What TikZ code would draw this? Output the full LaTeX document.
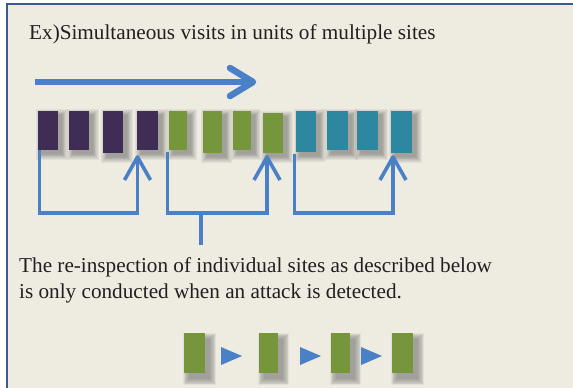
\documentclass[tikz,border=0pt]{standalone}
\usepackage{fontspec}
\setmainfont{Liberation Serif}
\usetikzlibrary{calc}

\definecolor{panel}{HTML}{EEEBE1}
\definecolor{frameblue}{HTML}{3A5A8E}
\definecolor{purp}{HTML}{402D56}
\definecolor{leaf}{HTML}{76963B}
\definecolor{teal}{HTML}{2E87A0}
\definecolor{flow}{HTML}{4A80C6}
\definecolor{ink}{HTML}{231F20}

\pgfdeclarelayer{panelbg}
\pgfdeclarelayer{shade}
\pgfsetlayers{panelbg,shade,main}

\tikzset{
  site/.style={rectangle, anchor=north west, inner sep=0pt, outer sep=0pt,
    fill=#1, minimum height=39pt},
  softshade/.style={fill=black!75, opacity=0.065},
  brk/.style={draw=flow, line width=3.6pt, line join=miter},
  runline/.style={draw=flow, line width=6.5pt},
  label/.style={anchor=base west, inner sep=0pt, text=ink,
    font=\fontsize{21.2}{26}\selectfont},
  pointer/.style={fill=flow}
}

% soft drop shadow behind a node: #1 node, #2 x offset, #3 y offset (downwards), #4 spread
\newcommand\siteshade[4]{%
  \begin{pgfonlayer}{shade}
    \foreach \k in {0,...,7}
      \fill[softshade]
        ($(#1.north west)+(#2-\k*#4,#3-\k*#4)$) rectangle
        ($(#1.south east)+(#2+\k*#4,#3+\k*#4)$);
  \end{pgfonlayer}}

\begin{document}
\begin{tikzpicture}[x=1pt, y=-1pt]
  \useasboundingbox (0,0) rectangle (573,388);
  % page and framed panel
  \begin{pgfonlayer}{panelbg}
    \fill[white] (0,0) rectangle (573,388);
    \fill[panel] (7,4) rectangle (573,388);
    \draw[frameblue, line width=2.4pt] (7,390) -- (7,4) -- (575,4);
  \end{pgfonlayer}

  % heading
  \node[label] (title) at (29,39) {Ex)Simultaneous visits in units of multiple sites};

  % direction of the visits
  \coordinate (runA) at (35,82);
  \coordinate (runB) at (250,82);
  \coordinate (runTip) at (253,82);
  \draw[runline] (runA) -- (runB);
  \draw[runline, line join=round, line cap=round]
    ($(runTip)+(-23,-14)$) -- (runTip) -- ($(runTip)+(-23,14)$);

  % three groups of four sites
  \node[site=purp, minimum width=20pt] (p1) at (38,111) {};
  \node[site=purp, minimum width=20pt] (p2) at (69,111) {};
  \node[site=purp, minimum width=20pt, minimum height=42pt] (p3) at (103,111) {};
  \node[site=purp, minimum width=21pt] (p4) at (137,111) {};
  \node[site=leaf, minimum width=18pt] (g1) at (169,111) {};
  \node[site=leaf, minimum width=19pt, minimum height=42pt] (g2) at (203,111) {};
  \node[site=leaf, minimum width=18pt] (g3) at (233,111) {};
  \node[site=leaf, minimum width=20pt, minimum height=40pt] (g4) at (263,113) {};
  \node[site=teal, minimum width=20pt, minimum height=41pt] (t1) at (296,111) {};
  \node[site=teal, minimum width=21pt] (t2) at (327,111) {};
  \node[site=teal, minimum width=21pt] (t3) at (357,111) {};
  \node[site=teal, minimum width=21pt, minimum height=42pt] (t4) at (391,111) {};
  \foreach \n in {p1,p2,p3,p4,g1,g2,g3,g4,t1,t2,t3,t4}
    {\siteshade{\n}{4}{4}{0.8}}

  % brackets: each group is visited from its first to its last site
  \coordinate (base) at (0,213);
  \coordinate (h1) at ($(p4.south west)+(0.5,7)$);
  \coordinate (h2) at ($(g4.south west)+(4,4)$);
  \coordinate (h3) at ($(t4.south west)+(2,4)$);
  \coordinate (s1) at ($(p1.south west)+(1.5,0)$);
  \coordinate (s2) at ($(g1.south west)+(-1.5,2)$);
  \coordinate (s3) at ($(t1.south west)+(-1.5,2)$);
  \draw[brk] (s1) -- (s1 |- base) -| (h1);
  \draw[brk] (s2) -- (s2 |- base) -| (h2);
  \draw[brk] (s3) -- (s3 |- base) -| (h3);
  \foreach \h in {h1,h2,h3}
    \draw[brk, line join=round] ($(\h)+(-13,23)$) -- (\h) -- ($(\h)+(13,23)$);

  % stem from the middle group down to the note
  \coordinate (stemtop) at (201,213);
  \coordinate (stemend) at (201,245);
  \draw[brk] (stemtop) -- (stemend);

  % note
  \node[label] (note1) at (19,272) {The re-inspection of individual sites as described below};
  \node[label] (note2) at (19,298) {is only conducted when an attack is detected.};

  % individual re-inspection sequence
  \node[site=leaf, minimum width=21pt, minimum height=40pt] (r1) at (184,333) {};
  \node[site=leaf, minimum width=19pt, minimum height=40pt] (r2) at (259,333) {};
  \node[site=leaf, minimum width=19pt, minimum height=40pt] (r3) at (331,333) {};
  \node[site=leaf, minimum width=21pt, minimum height=40pt] (r4) at (392,333) {};
  \foreach \n in {r1,r2,r3,r4}
    {\siteshade{\n}{5}{6}{0.9}}
  \fill[pointer] (221,347) -- (242,356) -- (221,365) -- cycle;
  \fill[pointer] (300,347) -- (321,356) -- (300,365) -- cycle;
  \fill[pointer] (361,347) -- (382,356) -- (361,365) -- cycle;
\end{tikzpicture}
\end{document}
